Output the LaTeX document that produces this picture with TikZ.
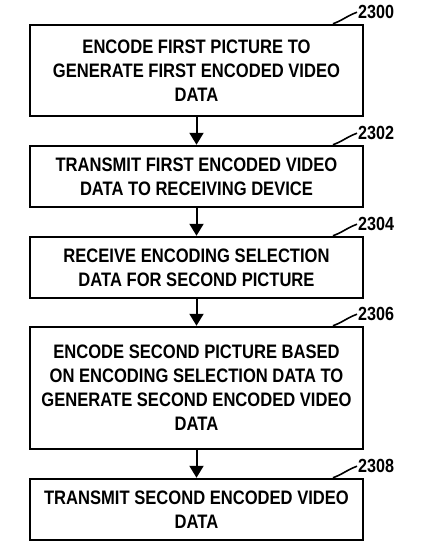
\documentclass[tikz,border=0pt]{standalone}
\usepackage{fontspec}
\setmainfont{Liberation Sans}[FakeStretch=0.85]
\usetikzlibrary{arrows.meta}
\begin{document}
\begin{tikzpicture}[x=1pt,y=-1pt,
  box/.style={draw, line width=2.5pt, minimum width=333pt, align=center,
    font=\bfseries\fontsize{19.5}{24}\selectfont, inner sep=0pt},
  arr/.style={line width=2pt, -{Triangle[width=14pt,length=12pt]}},
  lbl/.style={font=\bfseries\fontsize{19}{22}\selectfont, inner sep=1pt, anchor=base west},
  lead/.style={line width=1.6pt}]
\useasboundingbox (0,0) rectangle (422,550);
\node[box, minimum height=91pt] (b1) at (196.5,70.5) {ENCODE FIRST PICTURE TO\\GENERATE FIRST ENCODED VIDEO\\DATA};
\node[box, minimum height=61pt] (b2) at (196.5,176.5) {TRANSMIT FIRST ENCODED VIDEO\\DATA TO RECEIVING DEVICE};
\node[box, minimum height=61pt] (b3) at (196.5,267.5) {RECEIVE ENCODING SELECTION\\DATA FOR SECOND PICTURE};
\node[box, minimum height=122pt] (b4) at (196.5,388) {ENCODE SECOND PICTURE BASED\\ON ENCODING SELECTION DATA TO\\GENERATE SECOND ENCODED VIDEO\\DATA};
\node[box, minimum height=61pt] (b5) at (196.5,509.5) {TRANSMIT SECOND ENCODED VIDEO\\DATA};
\draw[arr] (b1) -- (b2);
\draw[arr] (b2) -- (b3);
\draw[arr] (b3) -- (b4);
\draw[arr] (b4) -- (b5);
\foreach \b/\t in {b1/2300, b2/2302, b3/2304, b4/2306, b5/2308}{
  \node[lbl] (l\b) at ([xshift=160.5pt, yshift=5pt]\b.north) {\t};
  \draw[lead] ([xshift=136.5pt]\b.north) to[out=20, in=200] (l\b.west);
}
\end{tikzpicture}
\end{document}
